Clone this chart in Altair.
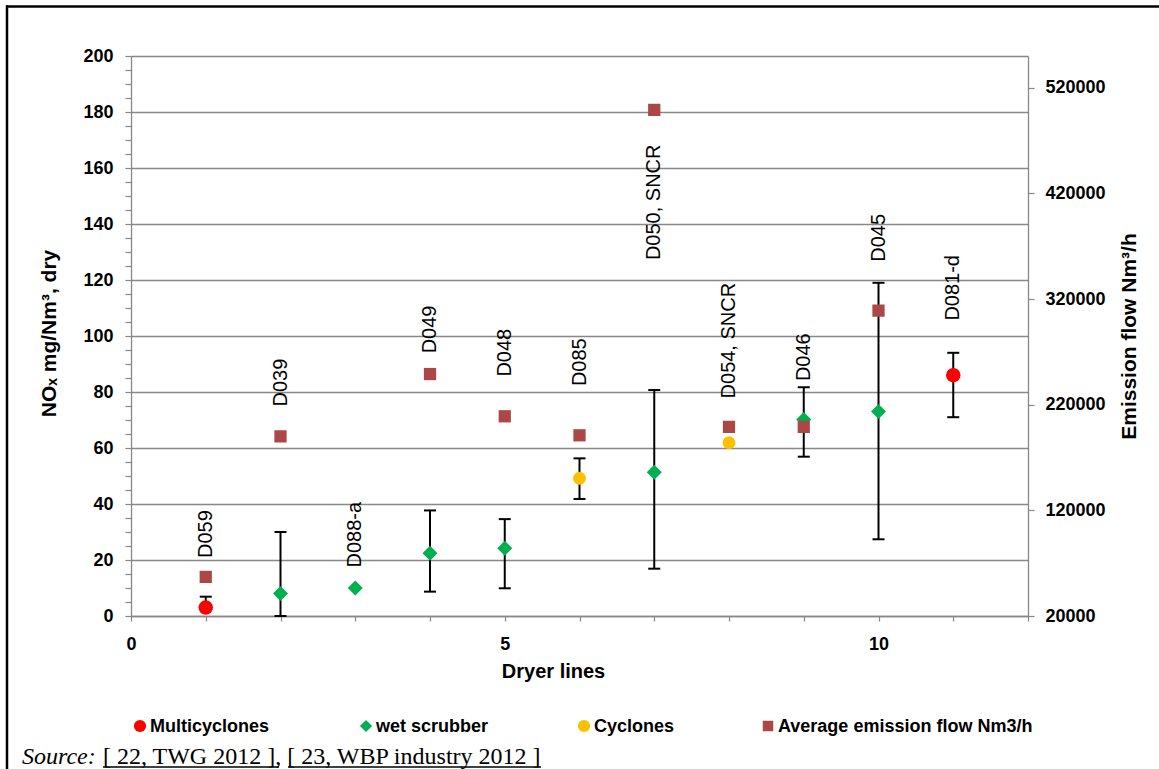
import altair as alt
import pandas as pd

# ---- data -------------------------------------------------------------
# NOx (mg/Nm3, dry) per dryer line, grouped by abatement technique
multi_line = [1, 11]
multi_nox = [3.0, 86.0]
multi_lo = [2.5, 71.0]
multi_hi = [6.9, 94.0]

wet_line = [2, 3, 4, 5, 7, 9, 10]
wet_nox = [8.0, 10.0, 22.4, 24.2, 51.3, 70.2, 73.0]
wet_lo = [0.0, None, 8.7, 9.9, 16.9, 56.9, 27.4]
wet_hi = [30.0, None, 37.7, 34.6, 80.7, 81.7, 119.0]

cyc_line = [6, 8]
cyc_nox = [49.2, 61.9]
cyc_lo = [41.8, None]
cyc_hi = [56.3, None]

# average emission flow (Nm3/h), right axis
flow_line = [1, 2, 4, 5, 6, 7, 8, 9, 10]
flow_value = [57000, 190000, 249000, 209000, 191000, 499000, 199000, 199000, 309000]

# plant identifiers written above each dryer line
label_line = [1, 2, 3, 4, 5, 6, 7, 8, 9, 10, 11]
label_text = ["D059", "D039", "D088-a", "D049", "D048", "D085", "D050, SNCR",
              "D054, SNCR", "D046", "D045", "D081-d"]
label_at = [20.7, 74.8, 17.3, 93.8, 85.5, 82.1, 127.1, 77.7, 83.9, 126.5, 105.5]

legend_names = ["Multicyclones", "wet scrubber", "Cyclones", "Average emission flow Nm3/h"]

# ---- styling / layout -------------------------------------------------
W, H = 897, 560
LEFT, TOP = 131, 56
SANS = "Liberation Sans"
GRAY = "#888888"
RED, GREEN, GOLD, BROWN = "#FF0000", "#00B050", "#FFC000", "#AB4744"

legend_sym_px = [140, 366, 584, 768]
legend_shape = ["circle", "diamond", "circle", "square"]
legend_color = [RED, GREEN, GOLD, BROWN]
legend_size = [150, 150, 150, 110]
legend_y_px = 726

x_scale = alt.Scale(domain=[0, 12], nice=False, zero=False)
y_scale = alt.Scale(domain=[0, 200], nice=False)
y2_scale = alt.Scale(domain=[20000, 550000], nice=False, zero=False)

x_axis = alt.Axis(
    values=list(range(0, 13)),
    labelExpr="datum.value % 5 === 0 ? datum.label : ''",
    grid=False, tickSize=5, tickColor=GRAY, tickWidth=1.2,
    domainColor=GRAY, domainWidth=1.3,
    labelFont=SANS, labelFontSize=18, labelFontWeight="bold", labelColor="black",
    labelPadding=14, labelFlush=False, labelOverlap=False,
    title="Dryer lines", titleFont=SANS, titleFontSize=20, titleFontWeight="bold",
    titleColor="black", titleX=422, titleY=61, titleAlign="center",
    titleBaseline="alphabetic",
)

y_axis = alt.Axis(
    values=list(range(0, 201, 5)),
    labelExpr="datum.value % 20 === 0 ? datum.label : ''",
    grid=True, gridColor=GRAY, gridWidth=1.3,
    gridOpacity={"condition": {"test": "datum.value % 20 === 0", "value": 1}, "value": 0},
    tickSize=6, tickColor=GRAY, tickWidth=1.2, domainColor=GRAY, domainWidth=1.3,
    labelFont=SANS, labelFontSize=18, labelFontWeight="bold", labelColor="black",
    labelPadding=12, labelOverlap=False, labelFlush=False,
    title="NOₓ mg/Nm³, dry", titleFont=SANS, titleFontSize=21, titleFontWeight="bold",
    titleColor="black", titleAngle=270, titleX=-76, titleY=277, titleAlign="center",
    titleBaseline="alphabetic",
)

y2_axis = alt.Axis(
    orient="right", values=list(range(20000, 520001, 100000)), format="d",
    grid=False, tickSize=6, tickColor=GRAY, tickWidth=1.2,
    domainColor=GRAY, domainWidth=1.3,
    labelFont=SANS, labelFontSize=18, labelFontWeight="bold", labelColor="black",
    labelPadding=11, labelOverlap=False, labelFlush=False,
    title="Emission flow Nm³/h", titleFont=SANS, titleFontSize=21, titleFontWeight="bold",
    titleColor="black", titleAngle=270, titleX=107, titleY=280, titleAlign="center",
    titleBaseline="alphabetic",
)

# ---- tables -------------------------------------------------------------
def tech_frame(lines, nox, lo, hi):
    return pd.DataFrame({"line": lines, "nox": nox, "lo": lo, "hi": hi})

multi_df = tech_frame(multi_line, multi_nox, multi_lo, multi_hi)
wet_df = tech_frame(wet_line, wet_nox, wet_lo, wet_hi)
cyc_df = tech_frame(cyc_line, cyc_nox, cyc_lo, cyc_hi)
err_df = pd.concat([multi_df, wet_df, cyc_df]).dropna().reset_index(drop=True)
flow_df = pd.DataFrame({"line": flow_line, "flow": flow_value})
label_df = pd.DataFrame({"line": label_line, "pos": label_at, "plant": label_text})


def X():
    return alt.X("line:Q", scale=x_scale, axis=x_axis)


def Y(field):
    return alt.Y(f"{field}:Q", scale=y_scale, axis=y_axis)


# ---- error bars -------------------------------------------------------
err_line = alt.Chart(err_df).mark_rule(color="black", strokeWidth=2).encode(
    x=X(), y=Y("lo"), y2="hi:Q"
)
cap_hi = alt.Chart(err_df).mark_rule(color="black", strokeWidth=2, xOffset=-6, x2Offset=6).encode(
    x=X(), x2="line:Q", y=Y("hi")
)
cap_lo = alt.Chart(err_df).mark_rule(color="black", strokeWidth=2, xOffset=-6, x2Offset=6).encode(
    x=X(), x2="line:Q", y=Y("lo")
)

# ---- technique markers ----------------------------------------------------
wet_pts = alt.Chart(wet_df).mark_point(
    shape="diamond", filled=True, size=225, color=GREEN, opacity=1, strokeWidth=0
).encode(x=X(), y=Y("nox"))
cyc_pts = alt.Chart(cyc_df).mark_point(
    shape="circle", filled=True, size=165, color=GOLD, opacity=1, strokeWidth=0
).encode(x=X(), y=Y("nox"))
multi_pts = alt.Chart(multi_df).mark_point(
    shape="circle", filled=True, size=210, color=RED, opacity=1, strokeWidth=0
).encode(x=X(), y=Y("nox"))

plant_labels = alt.Chart(label_df).mark_text(
    angle=270, align="left", baseline="middle", font=SANS, fontSize=20, color="black"
).encode(x=X(), y=Y("pos"), text="plant:N")

left_group = alt.layer(err_line, cap_hi, cap_lo, wet_pts, cyc_pts, multi_pts, plant_labels)

flow_pts = alt.Chart(flow_df).mark_point(
    shape="square", filled=True, size=150, color=BROWN, opacity=1, strokeWidth=0
).encode(
    x=X(),
    y=alt.Y("flow:Q", scale=y2_scale, axis=y2_axis),
)

# ---- legend ---------------------------------------------------------------
one = pd.DataFrame({"k": [0]})
legend_layers = []
for name, sx, shp, col, sz in zip(legend_names, legend_sym_px, legend_shape, legend_color, legend_size):
    legend_layers.append(
        alt.Chart(one).mark_point(shape=shp, filled=True, size=sz, color=col, opacity=1, strokeWidth=0)
        .encode(x=alt.value(sx - LEFT), y=alt.value(legend_y_px - TOP))
    )
    legend_layers.append(
        alt.Chart(pd.DataFrame({"name": [name]})).mark_text(
            align="left", baseline="middle", font=SANS, fontSize=18, fontWeight="bold", color="black"
        ).encode(x=alt.value(sx + 10 - LEFT), y=alt.value(legend_y_px + 1 - TOP), text="name:N")
    )

# ---- source line and frame --------------------------------------------------
source_lead = alt.Chart(pd.DataFrame({"t": ["Source:"]})).mark_text(
    align="left", baseline="alphabetic", font="Liberation Serif", fontStyle="italic",
    fontSize=24, color="black"
).encode(x=alt.value(22 - LEFT), y=alt.value(764 - TOP), text="t:N")
source_refs = alt.Chart(pd.DataFrame({"t": ["[ 22, TWG 2012 ], [ 23, WBP industry 2012 ]"]})).mark_text(
    align="left", baseline="alphabetic", font="Liberation Serif", fontSize=24, color="black"
).encode(x=alt.value(103 - LEFT), y=alt.value(764 - TOP), text="t:N")

def hline(x0, x1, y, w):
    return alt.Chart(one).mark_rule(color="black", strokeWidth=w).encode(
        x=alt.value(x0 - LEFT), x2=alt.value(x1 - LEFT), y=alt.value(y - TOP)
    )

def vline(x, y0, y1, w):
    return alt.Chart(one).mark_rule(color="black", strokeWidth=w).encode(
        x=alt.value(x - LEFT), y=alt.value(y0 - TOP), y2=alt.value(y1 - TOP)
    )

underline_1 = hline(103, 279, 767, 1.3)
underline_2 = hline(288, 541, 767, 1.3)
frame_top = hline(6, 1159, 6.5, 2.5)
frame_left = vline(7, 5.5, 769, 2.5)

chart = (
    alt.layer(
        left_group, flow_pts, *legend_layers, source_lead, source_refs,
        underline_1, underline_2, frame_top, frame_left,
    )
    .resolve_scale(y="independent")
    .properties(
        width=W, height=H,
        padding={"left": LEFT, "top": TOP, "right": 1159 - LEFT - W, "bottom": 769 - TOP - H},
        autosize=alt.AutoSizeParams(type="none"),
        background="white",
    )
    .configure_view(strokeWidth=0)
)

chart.save("out.html", embed_options={"renderer": "svg", "actions": False})
